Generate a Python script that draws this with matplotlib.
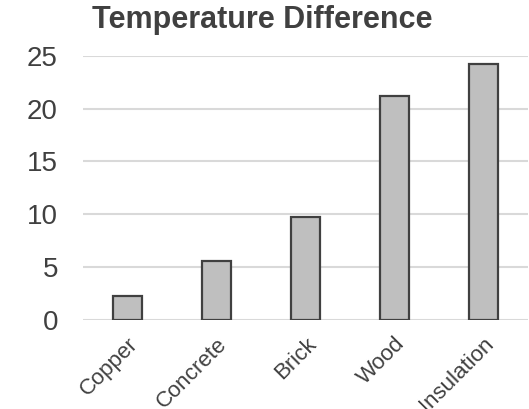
import matplotlib
matplotlib.use("Agg")
import matplotlib.pyplot as plt

categories = ["Copper", "Concrete", "Brick", "Wood", "Insulation"]
values = [2.2, 5.55, 9.7, 21.2, 24.2]
yticks = [0, 5, 10, 15, 20, 25]

W, H = 529, 409
fig = plt.figure(figsize=(W/100, H/100), dpi=100)
plt.rcParams['font.family'] = ['Liberation Sans', 'DejaVu Sans']
text_color = "#404040"

ax = fig.add_axes([83/W, (H-319.5)/H, (528-83)/W, (319.5-56)/H])
x = range(len(categories))
ax.bar(x, values, width=0.32, color="#BFBFBF", edgecolor="#404040", linewidth=1.6, zorder=3)
ax.set_xlim(-0.5, len(categories)-0.5)
ax.set_ylim(0, 25)
ax.set_yticks(yticks)
ax.set_yticklabels([str(t) for t in yticks], fontsize=20, color=text_color)
ax.set_xticks(list(x))
ax.set_xticklabels(categories, rotation=45, ha="right", va="top", rotation_mode="anchor",
                   fontsize=16, color=text_color)
for lbl in ax.get_xticklabels():
    lbl.set_x(lbl.get_position()[0])
ax.tick_params(axis='both', length=0)
ax.tick_params(axis='y', pad=18)
ax.tick_params(axis='x', pad=10)
ax.grid(axis='y', color="#D9D9D9", linewidth=1.5, zorder=0)
for s in ax.spines.values():
    s.set_visible(False)

fig.text(262/W, 1-20/H, "Temperature Difference", ha="center", va="center",
         fontsize=22, fontweight="bold", color=text_color)

fig.savefig("out.png", dpi=100)
